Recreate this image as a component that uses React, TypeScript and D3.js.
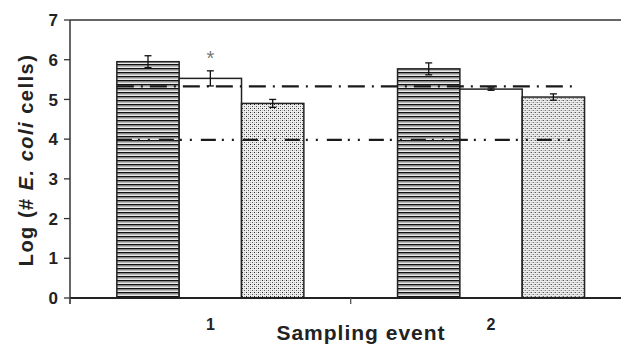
import React from "react";
import * as d3 from "d3";

// Sampling events on the x axis
const events = ["1", "2"];

// three treatments (striped, open, dotted)
const seriesNames = ["striped", "open", "dotted"];
const stripedVals = [5.95, 5.77];
const openVals = [5.53, 5.26];
const dottedVals = [4.9, 5.06];
const stripedErr = [0.15, 0.15];
const openErr = [0.19, 0.03];
const dottedErr = [0.1, 0.08];

// reference lines (dash-dot and dash-dot-dot)
const refLines = [
    { value: 5.33, dash: "17 7 2 7" },
    { value: 3.98, dash: "15 6 2 8 2 9" },
];

const yTicks = [0, 1, 2, 3, 4, 5, 6, 7];

const W = 621;
const H = 347;
const font = "'Liberation Sans', Arial, Helvetica, sans-serif";

export default function App() {
    const left = 70;
    const top = 20;
    const bottom = 298;
    const bandRight = 631.4;

    const x = d3.scaleBand().domain(events).range([left, bandRight]).padding(0);
    const y = d3.scaleLinear().domain([0, 7]).range([bottom, top]);

    const groupW = 187;
    const inner = d3
        .scaleBand()
        .domain(seriesNames)
        .range([(x.bandwidth() - groupW) / 2, (x.bandwidth() + groupW) / 2]);

    const values = [stripedVals, openVals, dottedVals];
    const errs = [stripedErr, openErr, dottedErr];
    const fills = ["url(#stripes)", "#fff", "url(#dots)"];

    const lineStart = (x(events[0]) ?? 0) + (inner(seriesNames[0]) ?? 0);
    const lineEnd =
        (x(events[1]) ?? 0) + (inner(seriesNames[2]) ?? 0) + inner.bandwidth() * 0.88;

    return (
        <div style={{ position: "absolute", left: 0, top: 0 }}>
            <svg width={W} height={H} style={{ display: "block", background: "#fff" }}>
                <defs>
                    <pattern id="stripes" width={6} height={4} patternUnits="userSpaceOnUse">
                        <rect width={6} height={4} fill="#fff" />
                        <rect y={0} width={6} height={1.5} fill="#111" />
                        <rect y={2.3} width={6} height={0.9} fill="#999" />
                    </pattern>
                    <pattern id="dots" width={4} height={4} patternUnits="userSpaceOnUse">
                        <rect width={4} height={4} fill="#eee" />
                        <rect x={0} y={0} width={1} height={1} fill="#222" />
                        <rect x={2} y={2} width={1} height={1} fill="#555" />
                        <rect x={2} y={0} width={1} height={1} fill="#bbb" />
                        <rect x={0} y={2} width={1} height={1} fill="#bbb" />
                    </pattern>
                </defs>

                {/* frame top */}
                <line x1={left} x2={W} y1={top} y2={top} stroke="#333" strokeWidth={1.5} />

                {/* bars */}
                {events.map((ev, i) => (
                    <g key={ev} transform={`translate(${x(ev)},0)`}>
                        {seriesNames.map((s, k) => {
                            const v = values[k][i];
                            return (
                                <rect
                                    key={s}
                                    x={inner(s)}
                                    y={y(v)}
                                    width={inner.bandwidth()}
                                    height={bottom - y(v)}
                                    fill={fills[k]}
                                    stroke="#222"
                                    strokeWidth={1.5}
                                />
                            );
                        })}
                    </g>
                ))}

                {/* reference lines */}
                {refLines.map((r) => (
                    <line
                        key={r.value}
                        x1={lineStart}
                        x2={lineEnd}
                        y1={y(r.value)}
                        y2={y(r.value)}
                        stroke="#1a1a1a"
                        strokeWidth={2.2}
                        strokeDasharray={r.dash}
                    />
                ))}

                {/* error bars */}
                {events.map((ev, i) =>
                    seriesNames.map((s, k) => {
                        const cx = (x(ev) ?? 0) + (inner(s) ?? 0) + inner.bandwidth() / 2;
                        const v = values[k][i];
                        const e = errs[k][i];
                        return (
                            <g key={`${ev}-${s}`} stroke="#111" strokeWidth={1.3}>
                                <line x1={cx} x2={cx} y1={y(v + e)} y2={y(v - e)} />
                                <line x1={cx - 3.5} x2={cx + 3.5} y1={y(v + e)} y2={y(v + e)} />
                                <line x1={cx - 3.5} x2={cx + 3.5} y1={y(v - e)} y2={y(v - e)} />
                            </g>
                        );
                    })
                )}

                {/* significance mark */}
                <text
                    x={(x(events[0]) ?? 0) + (inner("open") ?? 0) + inner.bandwidth() / 2}
                    y={y(openVals[0] + openErr[0]) - 6}
                    textAnchor="middle"
                    fontFamily={font}
                    fontSize={20}
                    fill="#777"
                >
                    *
                </text>

                {/* y axis */}
                <line x1={left} x2={left} y1={top} y2={bottom + 6} stroke="#333" strokeWidth={1.5} />
                {yTicks.map((t) => (
                    <g key={t}>
                        <line x1={left - 6} x2={left} y1={y(t)} y2={y(t)} stroke="#333" strokeWidth={1.3} />
                        <text
                            x={58}
                            y={y(t)}
                            dy="0.36em"
                            textAnchor="end"
                            fontFamily={font}
                            fontWeight="bold"
                            fontSize={17}
                            fill="#222"
                        >
                            {t}
                        </text>
                    </g>
                ))}

                {/* x axis */}
                <line x1={left} x2={W} y1={bottom} y2={bottom} stroke="#222" strokeWidth={1.8} />
                {events.map((ev) => (
                    <g key={ev}>
                        <line
                            x1={x(ev)}
                            x2={x(ev)}
                            y1={bottom}
                            y2={bottom + 6}
                            stroke="#555"
                            strokeWidth={1.3}
                        />
                        <text
                            x={(x(ev) ?? 0) + x.bandwidth() / 2}
                            y={330}
                            textAnchor="middle"
                            fontFamily={font}
                            fontWeight="bold"
                            fontSize={16}
                            fill="#222"
                        >
                            {ev}
                        </text>
                    </g>
                ))}

                {/* axis titles */}
                <text
                    x={361}
                    y={340}
                    textAnchor="middle"
                    fontFamily={font}
                    fontWeight="bold"
                    fontSize={21}
                    letterSpacing={1}
                    fill="#222"
                >
                    Sampling event
                </text>
                <text
                    transform={`translate(33,160) rotate(-90)`}
                    textAnchor="middle"
                    fontFamily={font}
                    fontWeight="bold"
                    fontSize={20}
                    letterSpacing={1.5}
                    fill="#222"
                >
                    Log (# <tspan fontStyle="italic">E. coli</tspan> cells)
                </text>
            </svg>
        </div>
    );
}
